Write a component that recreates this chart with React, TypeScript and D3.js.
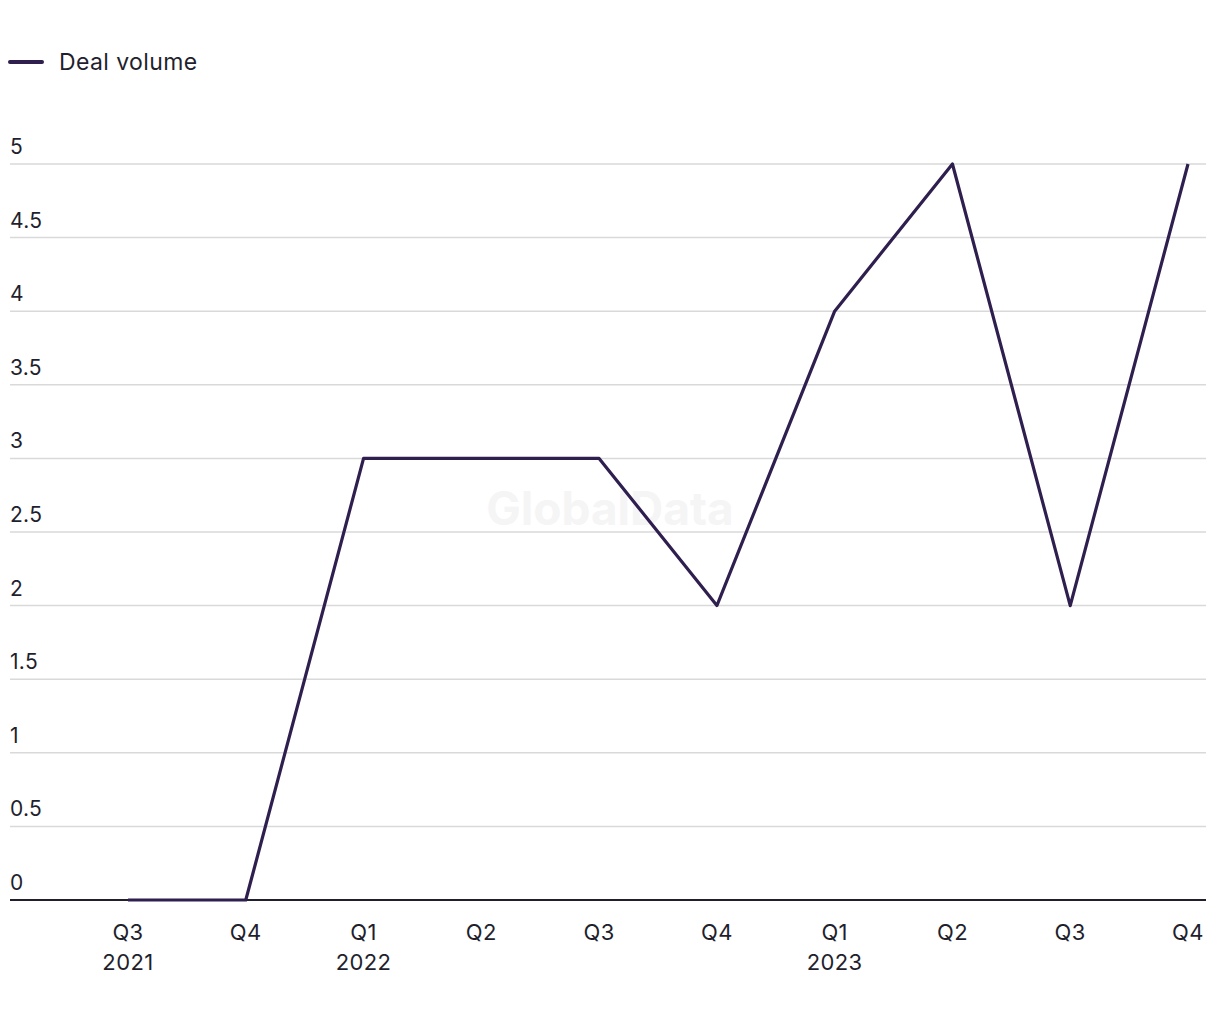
import React from "react";
import * as d3 from "d3";

const quarters = ["Q3", "Q4", "Q1", "Q2", "Q3", "Q4", "Q1", "Q2", "Q3", "Q4"];
const years = ["2021", "", "2022", "", "", "", "2023", "", "", ""];
const dealVolume = [0, 0, 3, 3, 3, 2, 4, 5, 2, 5];
const yTicks = [0, 0.5, 1, 1.5, 2, 2.5, 3, 3.5, 4, 4.5, 5];
const seriesName = "Deal volume";

const W = 1220;
const H = 1020;
const FONT = "Inter, 'Liberation Sans', Arial, sans-serif";
const LINE_COLOR = "#2f1f4f";
const TEXT_COLOR = "#1f1f2e";

export default function App() {
  const idx = quarters.map((_, i) => String(i));
  const x = d3.scalePoint<string>().domain(idx).range([128, 1188]);
  const y = d3.scaleLinear().domain([0, 5]).range([900, 164]);
  const line = d3
    .line<number>()
    .x((_, i) => x(String(i)) as number)
    .y((d) => y(d));

  return (
    <svg
      width={W}
      height={H}
      style={{ position: "absolute", left: 0, top: 0, background: "#fff" }}
      fontFamily={FONT}
    >
      {/* legend */}
      <line x1={10} x2={42} y1={62} y2={62} stroke={LINE_COLOR} strokeWidth={4} strokeLinecap="round" />
      <text x={59} y={70} fontSize={23} fill={TEXT_COLOR} letterSpacing={0.4}>
        {seriesName}
      </text>

      {/* gridlines + y labels */}
      {yTicks.map((t) => (
        <g key={t}>
          {t !== 0 && (
            <line x1={10} x2={1206} y1={y(t)} y2={y(t)} stroke="#d9d9d9" strokeWidth={1.5} />
          )}
          <text x={10} y={y(t) - 10} fontSize={21} fill={TEXT_COLOR} letterSpacing={0.3}>
            {String(t)}
          </text>
        </g>
      ))}

      {/* watermark */}
      <text
        x={610}
        y={525}
        textAnchor="middle"
        fontSize={46}
        fontWeight={700}
        fill="#f5f5f5"
      >
        GlobalData
      </text>

      {/* baseline */}
      <line x1={10} x2={1206} y1={y(0)} y2={y(0)} stroke={TEXT_COLOR} strokeWidth={2} />

      {/* series line */}
      <path
        d={line(dealVolume) || ""}
        fill="none"
        stroke={LINE_COLOR}
        strokeWidth={3.2}
        strokeLinejoin="round"
      />

      {/* x labels */}
      {quarters.map((q, i) => (
        <g key={i}>
          <text x={x(String(i))} y={940} textAnchor="middle" fontSize={22} fill={TEXT_COLOR} letterSpacing={0.4}>
            {q}
          </text>
          {years[i] && (
            <text x={x(String(i))} y={970} textAnchor="middle" fontSize={22} fill={TEXT_COLOR} letterSpacing={0.4}>
              {years[i]}
            </text>
          )}
        </g>
      ))}
    </svg>
  );
}
